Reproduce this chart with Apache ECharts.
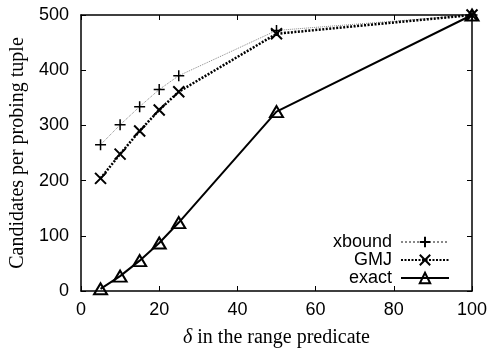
<!DOCTYPE html>
<html><head><meta charset="utf-8">
<script src="https://cdn.jsdelivr.net/npm/echarts@6/dist/echarts.min.js"></script>
<style>html,body{margin:0;padding:0;background:#fff}#c{width:488px;height:351px}</style>
</head><body><div id="c"></div>
<script>
var deltas = [5, 10, 15, 20, 25, 50, 100];
var xbound = [265, 301, 334, 365, 390, 472, 500];
var gmj = [204, 248, 290, 328, 361, 466, 500];
var exact = [4, 27, 55, 87, 124, 325, 500];
var xTicks = [0, 20, 40, 60, 80, 100];
var yTicks = [0, 100, 200, 300, 400, 500];

function pairs(ys){ return deltas.map(function(d,i){ return [d, ys[i]]; }); }
var sans = 'Liberation Sans, Arial, sans-serif';
var serif = 'Liberation Serif, Times New Roman, serif';
var plusPath = 'path://M0,5L10,5M5,0L5,10';
var crossPath = 'path://M0,0L10,10M10,0L0,10';

var chart = echarts.init(document.getElementById('c'), null, {renderer:'canvas'});
var axisBase = {
  type:'value', min:0, axisLine:{show:true, onZero:false, lineStyle:{color:'#000', width:1.5}},
  axisTick:{show:true, inside:true, length:5, lineStyle:{color:'#000', width:1}},
  splitLine:{show:false}
};
chart.setOption({
  animation:false,
  grid:{left:81, right:16, top:15, bottom:60, containLabel:false, outerBoundsMode:'none'},
  xAxis:[
    Object.assign({}, axisBase, {position:'bottom', max:100, interval:20,
      axisLabel:{color:'#000', fontFamily:sans, fontSize:18, margin:10},
      name:'{i|δ} in the range predicate', nameLocation:'middle', nameGap:37,
      nameTextStyle:{color:'#000', fontFamily:serif, fontSize:20,
        rich:{i:{fontStyle:'italic', fontFamily:serif, fontSize:20, color:'#000'}}}}),
    Object.assign({}, axisBase, {position:'top', max:100, interval:20, axisLabel:{show:false}})
  ],
  yAxis:[
    Object.assign({}, axisBase, {position:'left', max:500, interval:100,
      axisLabel:{color:'#000', fontFamily:sans, fontSize:18, margin:12},
      name:'Candidates per probing tuple', nameLocation:'middle', nameGap:47,
      nameTextStyle:{color:'#000', fontFamily:serif, fontSize:20}}),
    Object.assign({}, axisBase, {position:'right', max:500, interval:100, axisLabel:{show:false}})
  ],
  legend:{
    orient:'vertical', right:33, top:228, align:'right', itemWidth:48, itemHeight:13, itemGap:0,
    textStyle:{color:'#000', fontFamily:sans, fontSize:18, padding:[0,4,0,0]},
    data:['xbound','GMJ','exact']
  },
  series:[
    {name:'xbound', type:'line', data:pairs(xbound), symbol:plusPath, symbolSize:11,
      lineStyle:{color:'#888', width:1, type:'dotted'},
      itemStyle:{color:'none', borderColor:'#000', borderWidth:1.5}},
    {name:'GMJ', type:'line', data:pairs(gmj), symbol:crossPath, symbolSize:11,
      lineStyle:{color:'#000', width:2.5, type:[2,1.5]},
      itemStyle:{color:'none', borderColor:'#000', borderWidth:2}},
    {name:'exact', type:'line', data:pairs(exact), symbol:'triangle', symbolSize:[13,11],
      lineStyle:{color:'#000', width:2},
      itemStyle:{color:'none', borderColor:'#000', borderWidth:2}}
  ]
});
</script></body></html>
